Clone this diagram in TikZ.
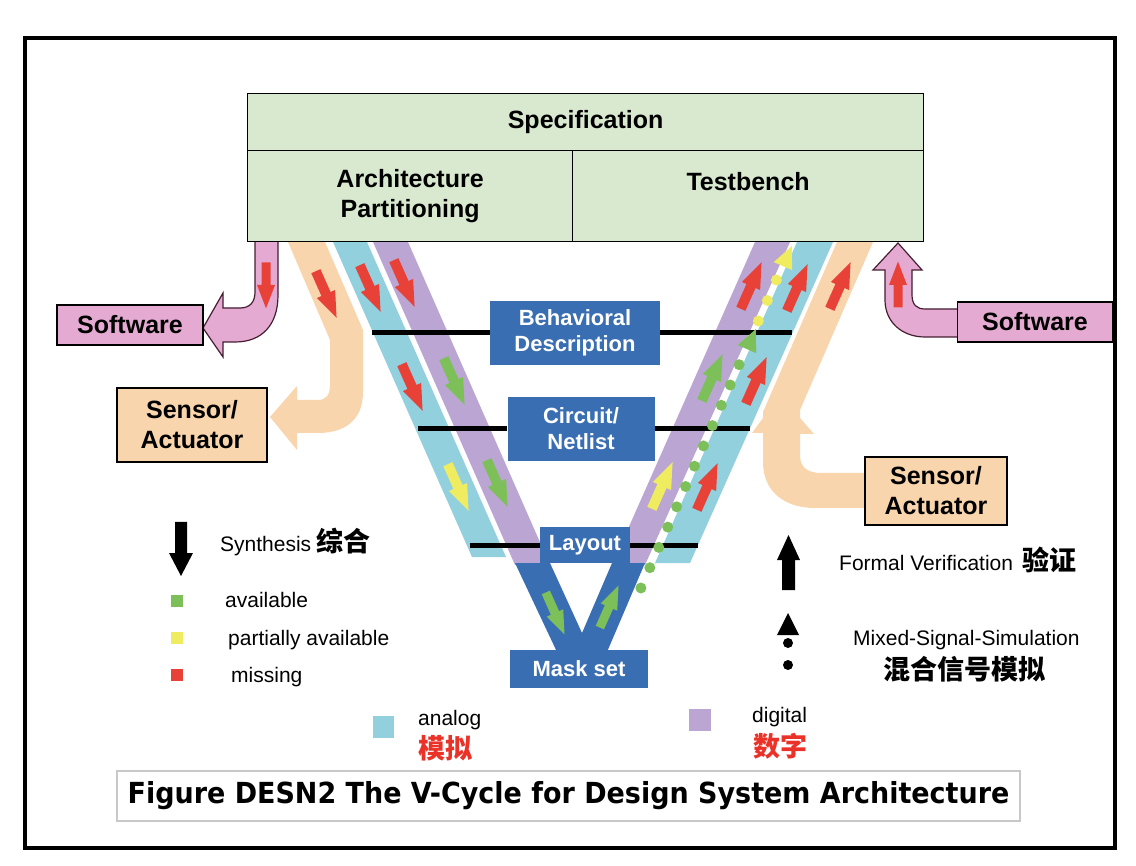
\documentclass[tikz,border=0pt]{standalone}
\usepackage{fontspec}
\usepackage{graphicx}
\setmainfont{Liberation Sans}
\newfontfamily\cjkfont{Noto Sans CJK SC}
\newfontfamily\capfont{DejaVu Sans}

\definecolor{specgreen}{RGB}{216,233,208}
\definecolor{bandcyan}{RGB}{146,208,222}
\definecolor{bandpurple}{RGB}{187,166,211}
\definecolor{bandpeach}{RGB}{248,213,172}
\definecolor{bandpink}{RGB}{229,170,210}
\definecolor{pinkline}{RGB}{70,30,50}
\definecolor{boxblue}{RGB}{58,110,178}
\definecolor{arrred}{RGB}{232,66,56}
\definecolor{arrgreen}{RGB}{125,192,90}
\definecolor{arryellow}{RGB}{240,236,96}
\definecolor{cjkred}{RGB}{235,50,40}
\definecolor{capgray}{RGB}{200,200,200}

\tikzset{
  specbox/.style={draw=black, line width=1.2pt, fill=specgreen, align=center, inner sep=0pt,
    font=\fontsize{25}{30}\selectfont\bfseries},
  bluebox/.style={fill=boxblue, text=white, align=center, inner sep=0pt,
    font=\fontsize{22}{26}\selectfont\bfseries},
  sidebox/.style={draw=black, line width=1.2pt, align=center, inner sep=0pt,
    font=\fontsize{25}{30}\selectfont\bfseries},
  level/.style={line width=5pt, black},
  legend/.style={anchor=base west, inner sep=0pt, font=\fontsize{21}{25}\selectfont},
  cjklabel/.style={anchor=base west, inner sep=0pt, font=\fontsize{27}{30}\cjkfont\bfseries},
  blk/.pic={\fill (-25,-5) -- (0,-5) -- (0,-10) -- (26,0) -- (0,10) -- (0,5) -- (-25,5) -- cycle;},
  tri/.pic={\fill (-10,-10) -- (12,0) -- (-10,10) -- cycle;}
}

\begin{document}
\begin{tikzpicture}[x=1pt,y=-1pt]
\useasboundingbox (0,0) rectangle (1136,866);
\fill[white] (0,0) rectangle (1136,866);
\draw[line width=4pt] (25,38) rectangle (1115,848);

% software / sensor flows, left
\filldraw[fill=bandpink, draw=pinkline, line width=1.2pt] (255,241) -- (278,241) -- (278,295) .. controls (278,325) and (262,342) .. (235,342) -- (223,342) -- (223,357) -- (203,328) -- (223,293) -- (223,308) -- (240,308) .. controls (250,308) and (255,302) .. (255,292) -- cycle;
\fill[bandpeach] (288,242) -- (325,242) -- (363,330) -- (363,392) .. controls (363,420) and (345,433) .. (318,433) -- (297,433) -- (297,450) -- (270,417) -- (297,386) -- (297,400) -- (318,400) .. controls (326,400) and (330,395) .. (330,385) -- (330,340) -- cycle;

% analog and digital bands
\fill[bandcyan] (333,242) -- (367,242) -- (506,557) -- (472,557) -- cycle;
\fill[bandpurple] (373,242) -- (408,242) -- (550,565) -- (515,565) -- cycle;
\fill[bandpurple] (755,242) -- (790,242) -- (645,565) -- (612,565) -- cycle;
\fill[bandcyan] (797,242) -- (833,242) -- (690,563) -- (655,563) -- cycle;

% software / sensor flows, right
\fill[bandpeach] (837,242) -- (873,242) -- (800,410) -- (800,455) .. controls (800,468) and (808,473) .. (822,473) -- (866,473) -- (866,508) -- (815,508) .. controls (785,508) and (763,492) .. (763,462) -- (763,412) -- cycle;
\fill[bandpeach] (763,418) -- (752,433) -- (763,433) -- cycle;
\fill[bandpeach] (800,418) -- (814,434) -- (800,434) -- cycle;
\filldraw[fill=bandpink, draw=pinkline, line width=1.2pt] (885,270) -- (873,270) -- (898,243) -- (922,270) -- (912,270) -- (912,295) .. controls (912,305) and (917,309) .. (925,309) -- (958,309) -- (958,337) -- (925,337) .. controls (902,337) and (885,322) .. (885,300) -- cycle;

% mask set V
\fill[boxblue] (515,563) -- (550,563) -- (582,633) -- (612,563) -- (645,563) -- (607,652) -- (557,652) -- cycle;

% synthesis arrows
\pic[fill=arrred, scale=0.9, rotate=-90] at (266,285) {blk};
\pic[fill=arrred, rotate=-66] at (326,294) {blk};
\pic[fill=arrred, rotate=-66] at (370,288) {blk};
\pic[fill=arrred, rotate=-66] at (404,283) {blk};
\pic[fill=arrred, rotate=-66] at (412,387) {blk};
\pic[fill=arrgreen, rotate=-66] at (454,381) {blk};
\pic[fill=arryellow, rotate=-66] at (458,487) {blk};
\pic[fill=arrgreen, rotate=-66] at (497,483) {blk};
\pic[fill=arrgreen, scale=0.9, rotate=-66] at (555,613) {blk};
% verification arrows
\pic[fill=arrgreen, scale=0.9, rotate=66] at (609,607) {blk};
\pic[fill=arryellow, rotate=66] at (662,486) {blk};
\pic[fill=arrgreen, rotate=66] at (712,378) {blk};
\pic[fill=arrred, rotate=66] at (751,286) {blk};
\pic[fill=arrred, rotate=66] at (707,487) {blk};
\pic[fill=arrred, rotate=66] at (756,381) {blk};
\pic[fill=arrred, rotate=66] at (797,288) {blk};
\pic[fill=arrred, rotate=66] at (840,286) {blk};
\pic[fill=arrred, scale=0.9, rotate=90] at (898,285) {blk};

% specification
\node[specbox, minimum width=676pt, minimum height=57pt, anchor=north west] (spec) at (247,93) {Specification};
\node[specbox, minimum width=325pt, minimum height=91pt, anchor=north west] (arch) at (247,150) {Architecture\\Partitioning};
\node[specbox, minimum width=351pt, minimum height=91pt, anchor=north west] (tbench) at (572,150) {Testbench\\\mbox{}};

% levels
\node[bluebox, minimum width=170pt, minimum height=64pt] (behav) at (575,333) {Behavioral\\Description};
\node[bluebox, minimum width=147pt, minimum height=64pt] (circ) at (581,429) {Circuit/\\Netlist};
\node[bluebox, minimum width=90pt, minimum height=36pt] (layout) at (585,545) {Layout};
\node[bluebox, minimum width=138pt, minimum height=38pt] (mask) at (579,669) {Mask set};
\coordinate (behavL) at (372,333);
\coordinate (behavR) at (792,333);
\coordinate (circL) at (418,429);
\coordinate (circR) at (750,429);
\coordinate (layoutL) at (470,545);
\coordinate (layoutR) at (698,545);
\draw[level] (behav.west) -- (behavL);
\draw[level] (behav.east) -- (behavR);
\draw[level] (circ.west) -- (circL);
\draw[level] (circ.east) -- (circR);
\draw[level] (layout.west) -- (layoutL);
\draw[level] (layout.east) -- (layoutR);

% mixed signal simulation
\foreach \k in {0,...,11}
  \fill[arrgreen] ({640.9+0.44*20.3*\k},{588-20.3*\k}) circle (5.5pt);
\pic[fill=arrgreen, rotate=66] at (751,340) {tri};
\foreach \y in {321,300.5,280}
  \fill[arryellow] ({640.9+0.44*(588-\y)},\y) circle (5.5pt);
\pic[fill=arryellow, rotate=66] at (787,257) {tri};

% side boxes
\node[sidebox, fill=bandpink, minimum width=146pt, minimum height=40pt] (swL) at (130,325) {Software};
\node[sidebox, fill=bandpeach, minimum width=150pt, minimum height=74pt] (saL) at (192,425) {Sensor/\\Actuator};
\node[sidebox, fill=bandpink, minimum width=155pt, minimum height=40pt] (swR) at (1035,322) {Software};
\node[sidebox, fill=bandpeach, minimum width=142pt, minimum height=68pt] (saR) at (936,491) {Sensor/\\Actuator};

% legend
\fill (175,522) -- (187,522) -- (187,553) -- (193,553) -- (181,576) -- (169,553) -- (175,553) -- cycle;
\node[legend] (synth) at (220,551) {Synthesis\hspace{5pt}{\fontsize{27}{30}\cjkfont\bfseries 综合}};
\fill[arrgreen] (171,595) rectangle (183,607);
\node[legend] (avail) at (225,607) {available};
\fill[arryellow] (171,632) rectangle (183,644);
\node[legend] (partial) at (228,645) {partially available};
\fill[arrred] (171,669) rectangle (183,681);
\node[legend] (miss) at (231,682) {missing};

\fill (782,590) -- (795,590) -- (795,560) -- (800,560) -- (788.5,535) -- (777,560) -- (782,560) -- cycle;
\node[legend] (formal) at (839,570) {Formal Verification\hspace{9pt}{\fontsize{27}{30}\cjkfont\bfseries 验证}};
\fill (788,613) -- (799,635) -- (777,635) -- cycle;
\fill (788,643) circle (5pt);
\fill (788,665) circle (5pt);
\node[legend] (mixed) at (853,645) {Mixed-Signal-Simulation};
\node[cjklabel] (mixedcn) at (883,679) {混合信号模拟};

\fill[bandcyan] (373,716) rectangle (394,738);
\node[legend] (analog) at (418,725) {analog};
\node[cjklabel, text=cjkred] (analogcn) at (418,758) {模拟};
\fill[bandpurple] (689,709) rectangle (711,731);
\node[legend] (digital) at (752,722) {digital};
\node[cjklabel, text=cjkred] (digitalcn) at (753,756) {数字};

% caption
\node[draw=capgray, line width=2.5pt, fill=white, minimum width=903pt, minimum height=50pt, inner sep=0pt] (caption) at (568.5,796)
  {\scalebox{0.93}[1]{\fontsize{29}{32}\capfont\bfseries Figure DESN2 The V-Cycle for Design System Architecture}};
\end{tikzpicture}
\end{document}
